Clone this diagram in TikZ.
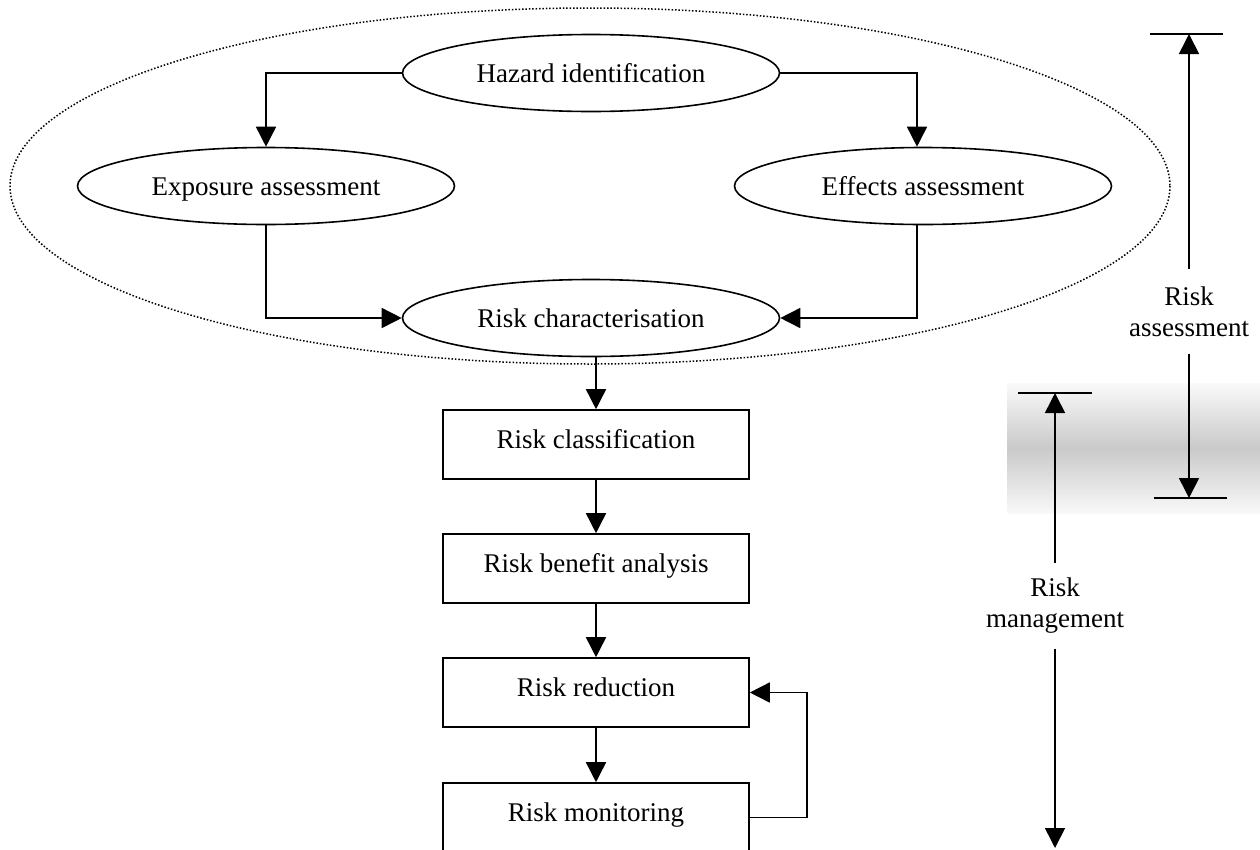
\documentclass[tikz,border=0pt]{standalone}
\usepackage{fontspec}
\setmainfont{Liberation Serif}
\usetikzlibrary{shapes.geometric,arrows.meta}
\begin{document}
\begin{tikzpicture}[x=1pt,y=-1pt,
  every node/.style={font=\fontsize{27}{31}\selectfont},
  arr/.style={line width=1.6pt,-{Triangle[length=20pt,width=20pt]}},
  oval/.style={ellipse, draw, line width=1.6pt, minimum width=377pt,
    minimum height=77pt, inner sep=0pt, text height=18pt, text depth=0pt},
  stage/.style={rectangle, draw, line width=1.6pt, minimum width=306pt,
    minimum height=69pt, inner sep=0pt, text height=19pt, text depth=12pt},
  span/.style={align=center, inner xsep=0pt},
  bar/.style={line width=1.6pt}
]
\useasboundingbox (0,0) rectangle (1260,849);
\clip (0,0) rectangle (1260,849);

% soft grey band where the two spans overlap
\shade[top color=gray!4, bottom color=gray!5, middle color=gray!42]
  (1007,383) rectangle (1260,513);

% dotted boundary of the assessment stage
\draw[line width=1.5pt, dash pattern=on 1.5pt off 1.9pt]
  (590,186) ellipse [x radius=580, y radius=178];

% assessment steps
\node[oval] (haz) at (591,73) {Hazard identification};
\node[oval] (exp) at (266,186) {Exposure assessment};
\node[oval] (eff) at (923,186) {Effects assessment};
\node[oval] (char) at (591,318) {Risk characterisation};

% management steps
\node[stage] (cls) at (596,444.5) {Risk classification};
\node[stage] (ben) at (596,568.5) {Risk benefit analysis};
\node[stage] (red) at (596,692.5) {Risk reduction};
\node[stage] (mon) at (596,817.5) {Risk monitoring};

% flow
\draw[arr] (haz.west) -| (exp.north);
\draw[arr] (haz.east) -| ([xshift=-6pt]eff.north);
\draw[arr] (exp.south) |- (char.west);
\draw[arr] ([xshift=-6pt]eff.south) |- (char.east);
\draw[arr] (char.south -| cls.north) -- (cls.north);
\draw[arr] (cls.south) -- (ben.north);
\draw[arr] (ben.south) -- (red.north);
\draw[arr] (red.south) -- (mon.north);
\draw[arr] (mon.east) -- ++(57,0) |- (red.east);

% span of risk assessment
\node[span, inner ysep=17pt] (ra) at (1189,311.3) {Risk\\assessment};
\coordinate (raTop) at (1189,34);
\coordinate (raBot) at (1189,498);
\draw[arr] (ra.north) -- (raTop);
\draw[arr] (ra.south) -- (raBot);
\draw[bar] ([xshift=-39pt]raTop) -- ([xshift=34pt]raTop);
\draw[bar] ([xshift=-35pt]raBot) -- ([xshift=38pt]raBot);

% span of risk management
\node[span, inner ysep=15pt] (rm) at (1055,605.7) {Risk\\management};
\coordinate (rmTop) at (1055,393);
\coordinate (rmBot) at (1055,848);
\draw[arr] (rm.north) -- (rmTop);
\draw[arr] (rm.south) -- (rmBot);
\draw[bar] ([xshift=-37pt]rmTop) -- ([xshift=37pt]rmTop);
\end{tikzpicture}
\end{document}
